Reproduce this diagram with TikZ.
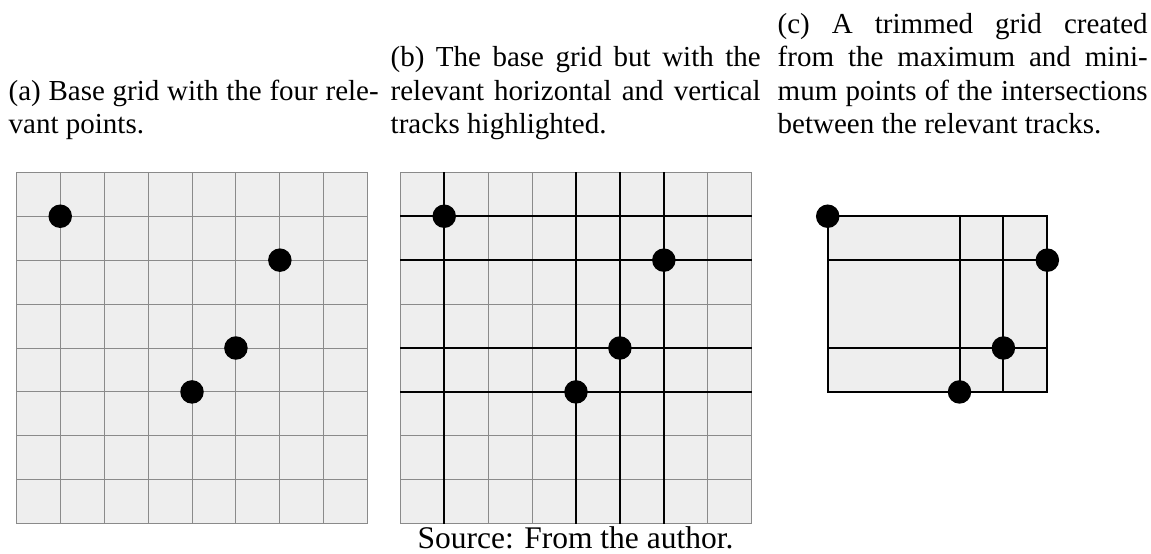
\documentclass[tikz,border=0pt]{standalone}
\usepackage{fontspec}
\setmainfont{Liberation Serif}
\definecolor{gridfill}{HTML}{EEEEEE}
\definecolor{gridline}{HTML}{8A8A8A}
\tikzset{
  capline/.style={anchor=base west, inner sep=0pt, font=\fontsize{29}{33.4}\selectfont},
  srcline/.style={anchor=base, inner sep=0pt, font=\fontsize{31.5}{36}\selectfont},
  bigdot/.style={circle, fill=black, draw=none, inner sep=0pt, minimum size=23.5pt},
  gridthin/.style={draw=gridline, line width=1pt},
  trackline/.style={draw=black, line width=2pt},
}
\begin{document}
\begin{tikzpicture}[x=1pt,y=-1pt]
\useasboundingbox (0,0) rectangle (1151,554);

% captions (a)
\node[capline] (a1) at (8.5,100) {\makebox[370pt][s]{(a) Base grid with the four rele-}};
\node[capline] (a2) at (8.5,133.4) {vant points.};
% captions (b)
\node[capline] (b1) at (390.5,66.6) {\makebox[370pt][s]{(b) The base grid but with the}};
\node[capline] (b2) at (390.5,100) {\makebox[370pt][s]{relevant horizontal and vertical}};
\node[capline] (b3) at (390.5,133.4) {tracks highlighted.};
% captions (c)
\node[capline] (c1) at (777.5,33.2) {\makebox[370pt][s]{(c) A trimmed grid created}};
\node[capline] (c2) at (777.5,66.6) {\makebox[370pt][s]{from the maximum and mini-}};
\node[capline] (c3) at (777.5,100) {\makebox[370pt][s]{mum points of the intersections}};
\node[capline] (c4) at (777.5,133.4) {between the relevant tracks.};

% grid (a)
\begin{scope}[shift={(16.3,172.3)}, x=43.925pt, y=-43.925pt]
  \fill[gridfill] (0,0) rectangle (8,8);
  \foreach \i in {0,...,8} {
    \draw[gridthin] (\i,0) -- (\i,8);
    \draw[gridthin] (0,\i) -- (8,\i);
  }
  \node[bigdot] (pa1) at (1,1) {};
  \node[bigdot] (pa2) at (6,2) {};
  \node[bigdot] (pa3) at (5,4) {};
  \node[bigdot] (pa4) at (4,5) {};
\end{scope}

% grid (b)
\begin{scope}[shift={(400.3,172.3)}, x=43.925pt, y=-43.925pt]
  \fill[gridfill] (0,0) rectangle (8,8);
  \foreach \i in {0,...,8} {
    \draw[gridthin] (\i,0) -- (\i,8);
    \draw[gridthin] (0,\i) -- (8,\i);
  }
  \foreach \i in {1,4,5,6} {
    \draw[trackline] (\i,0) -- (\i,8);
  }
  \foreach \i in {1,2,4,5} {
    \draw[trackline] (0,\i) -- (8,\i);
  }
  \node[bigdot] (pb1) at (1,1) {};
  \node[bigdot] (pb2) at (6,2) {};
  \node[bigdot] (pb3) at (5,4) {};
  \node[bigdot] (pb4) at (4,5) {};
\end{scope}

% grid (c)
\begin{scope}[shift={(783.8,172.3)}, x=43.925pt, y=-43.925pt]
  \fill[gridfill] (1,1) rectangle (6,5);
  \draw[trackline] (4,1) -- (4,5);
  \draw[trackline] (5,1) -- (5,5);
  \draw[trackline] (1,2) -- (6,2);
  \draw[trackline] (1,4) -- (6,4);
  \draw[trackline] (1,1) rectangle (6,5);
  \node[bigdot] (pc1) at (1,1) {};
  \node[bigdot] (pc2) at (6,2) {};
  \node[bigdot] (pc3) at (5,4) {};
  \node[bigdot] (pc4) at (4,5) {};
\end{scope}

% source
\node[srcline] (src) at (575.5,548) {Source: From the author.};
\end{tikzpicture}
\end{document}
